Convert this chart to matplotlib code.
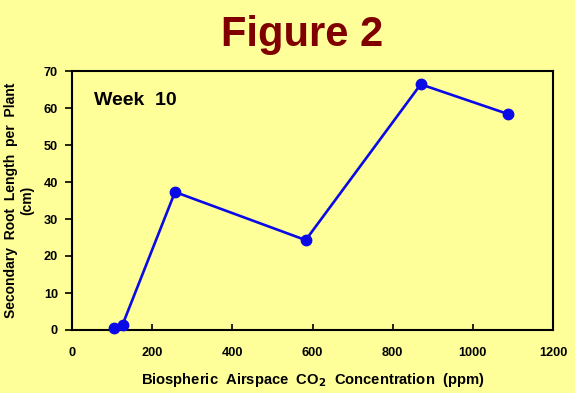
import matplotlib
matplotlib.use("Agg")
import matplotlib.pyplot as plt

co2_ppm = [105, 126, 257, 583, 870, 1087]
root_length_cm = [0.6, 1.4, 37.3, 24.3, 66.4, 58.4]
x_ticks = [0, 200, 400, 600, 800, 1000, 1200]
y_ticks = [0, 10, 20, 30, 40, 50, 60, 70]

bg = '#FFFF99'
plt.rcParams['font.family'] = ['Liberation Sans', 'DejaVu Sans']

fig = plt.figure(figsize=(5.75, 3.93), dpi=100, facecolor=bg)
ax = fig.add_axes([72/575, 63/393, (553-72)/575, (330-71)/393])
ax.set_facecolor(bg)

ax.plot(co2_ppm, root_length_cm, color='#0A0AE6', lw=1.9, marker='o', ms=7.5,
        markerfacecolor='#0A0AE6', markeredgecolor='#0A0AE6', clip_on=False, zorder=3)

ax.set_xlim(0, 1200)
ax.set_ylim(0, 70)
ax.set_xticks(x_ticks)
ax.set_yticks(y_ticks)
ax.tick_params(axis='x', direction='in', length=4, width=1.2, pad=12, labelsize=9.2)
ax.tick_params(axis='y', direction='out', length=5, width=1.2, pad=5, labelsize=9.2)
for lab in ax.get_xticklabels() + ax.get_yticklabels():
    lab.set_fontweight('bold')
for s in ax.spines.values():
    s.set_linewidth(1.5)
    s.set_color('black')

ax.set_xlabel('Biospheric  Airspace  CO$_\\mathbf{2}$  Concentration  (ppm)',
              fontsize=10.6, fontweight='bold', labelpad=9)
ax.set_ylabel('Secondary  Root  Length  per  Plant\n(cm)', fontsize=10,
              fontweight='bold', labelpad=7, linespacing=1.15)

ax.text(55, 62, 'Week  10', fontsize=14, fontweight='bold', ha='left', va='center')

fig.text(302/575, 1 - 35/393, 'Figure 2', fontsize=30, fontweight='bold',
         color='#800000', ha='center', va='center')

fig.savefig('out.png', dpi=100, facecolor=bg)
